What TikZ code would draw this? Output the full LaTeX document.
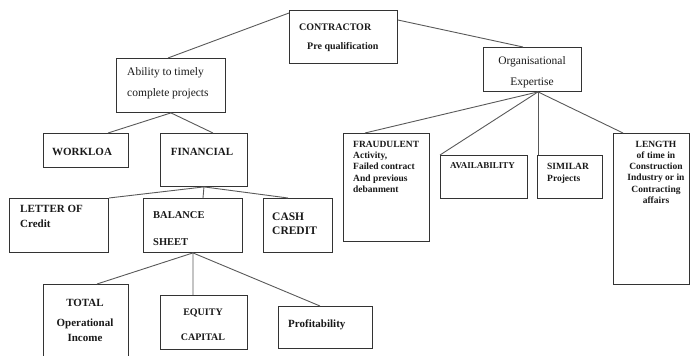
\documentclass[tikz,border=0pt]{standalone}
\usepackage{fontspec}
\setmainfont{Liberation Serif}
\begin{document}
\begin{tikzpicture}[x=1pt, y=-1pt,
    blk/.style={draw=black!80, line width=0.9pt, inner sep=0pt, anchor=north west},
    txt/.style={inner sep=0pt, text=black!90},
    link/.style={draw=black!65, line width=0.9pt}]
    \useasboundingbox (0,0) rectangle (691,356);

    % Верхний уровень
    \node[blk, minimum width=108pt, minimum height=53pt] (contractor) at (289,10) {};
    \node[txt, anchor=north west, align=left, font=\bfseries\fontsize{10}{19}\selectfont] (contractorT) at (299,23.6) {CONTRACTOR\\\hspace*{8pt}Pre qualification};

    \node[blk, minimum width=109pt, minimum height=54pt] (ability) at (116,58) {};
    \node[txt, anchor=north west, align=left, font=\fontsize{11.5}{21}\selectfont] (abilityT) at (127,67) {Ability to timely\\complete projects};

    \node[blk, minimum width=98pt, minimum height=44pt] (organ) at (483,47) {};
    \node[txt, anchor=north, align=center, font=\fontsize{11.5}{21}\selectfont] (organT) at (532,56) {Organisational\\Expertise};

    % Второй уровень слева
    \node[blk, minimum width=85pt, minimum height=34pt] (workload) at (43,133) {};
    \node[txt, font=\bfseries\fontsize{11}{13}\selectfont] (workloadT) at (82,152) {WORKLOA};

    \node[blk, minimum width=87pt, minimum height=53pt] (financial) at (160,133) {};
    \node[txt, font=\bfseries\fontsize{11}{13}\selectfont] (financialT) at (202,152) {FINANCIAL};

    % Финансовые показатели
    \node[blk, minimum width=99pt, minimum height=54pt] (letter) at (9,198) {};
    \node[txt, anchor=north west, align=left, font=\bfseries\fontsize{11}{14.5}\selectfont] (letterT) at (20,205.3) {LETTER OF\\Credit};

    \node[blk, minimum width=99pt, minimum height=54pt] (balance) at (143,198) {};
    \node[txt, anchor=north west, align=left, font=\bfseries\fontsize{10.5}{27}\selectfont] (balanceT) at (153,211.4) {BALANCE\\SHEET};

    \node[blk, minimum width=69pt, minimum height=54pt] (cash) at (263,198) {};
    \node[txt, anchor=north west, align=left, font=\bfseries\fontsize{11.5}{14}\selectfont] (cashT) at (272,213) {CASH\\CREDIT};

    % Баланс
    \node[blk, minimum width=85pt, minimum height=80pt] (total) at (43,284) {};
    \node[txt, anchor=north, align=center, font=\bfseries\fontsize{11}{15}\selectfont] (totalT) at (85,299.3) {TOTAL\\[5pt]Operational\\Income};

    \node[blk, minimum width=87pt, minimum height=54pt] (equity) at (160,295) {};
    \node[txt, anchor=north, align=center, font=\bfseries\fontsize{10}{25}\selectfont] (equityT) at (203,308.6) {EQUITY\\CAPITAL};

    \node[blk, minimum width=94pt, minimum height=42pt] (profit) at (278,306) {};
    \node[txt, anchor=west, font=\bfseries\fontsize{11}{13}\selectfont] (profitT) at (288,325) {Profitability};

    % Правая ветвь
    \node[blk, minimum width=86pt, minimum height=108pt] (fraud) at (343,133) {};
    \node[txt, anchor=north west, align=left, font=\bfseries\fontsize{9.5}{11.3}\selectfont] (fraudT) at (353,140.8) {FRAUDULENT\\Activity,\\Failed contract\\And previous\\debanment};

    \node[blk, minimum width=87pt, minimum height=43pt] (avail) at (440,155) {};
    \node[txt, anchor=west, font=\bfseries\fontsize{9}{11}\selectfont] (availT) at (450,166) {AVAILABILITY};

    \node[blk, minimum width=65pt, minimum height=43pt] (similar) at (537,155) {};
    \node[txt, anchor=north west, align=left, font=\bfseries\fontsize{9.5}{12}\selectfont] (similarT) at (547,162.8) {SIMILAR\\Projects};

    \node[blk, minimum width=76pt, minimum height=151pt] (length) at (613,133) {};
    \node[txt, anchor=north, align=center, font=\bfseries\fontsize{9.5}{11.2}\selectfont] (lengthT) at (656,140.8) {LENGTH\\of time in\\Construction\\Industry or in\\Contracting\\affairs};

    % Связи
    \draw[link] ([yshift=-3pt]contractor.north west) -- ([xshift=-3pt]ability.north);
    \draw[link] ([yshift=-10pt]contractor.north east) -- ([xshift=40pt]organ.north west);
    \draw[link] (ability.south) -- ([xshift=65pt]workload.north west);
    \draw[link] (ability.south) -- ([xshift=53pt]financial.north west);
    \draw[link] (financial.south) -- (letter.north east);
    \draw[link] (financial.south) -- ([xshift=60pt]balance.north west);
    \draw[link] (financial.south) -- ([xshift=25pt]cash.north west);
    \draw[link] (balance.south) -- ([xshift=54pt]total.north west);
    \draw[link] (balance.south) -- ([xshift=33pt]equity.north west);
    \draw[link] (balance.south) -- ([xshift=42pt]profit.north west);
    \draw[link] ([xshift=55pt]organ.south west) -- ([xshift=22pt]fraud.north west);
    \draw[link] ([xshift=55pt]organ.south west) -- (avail.north west);
    \draw[link] ([xshift=55pt]organ.south west) -- ([xshift=1pt]similar.north west);
    \draw[link] ([xshift=55pt]organ.south west) -- ([xshift=10pt]length.north west);
\end{tikzpicture}
\end{document}
